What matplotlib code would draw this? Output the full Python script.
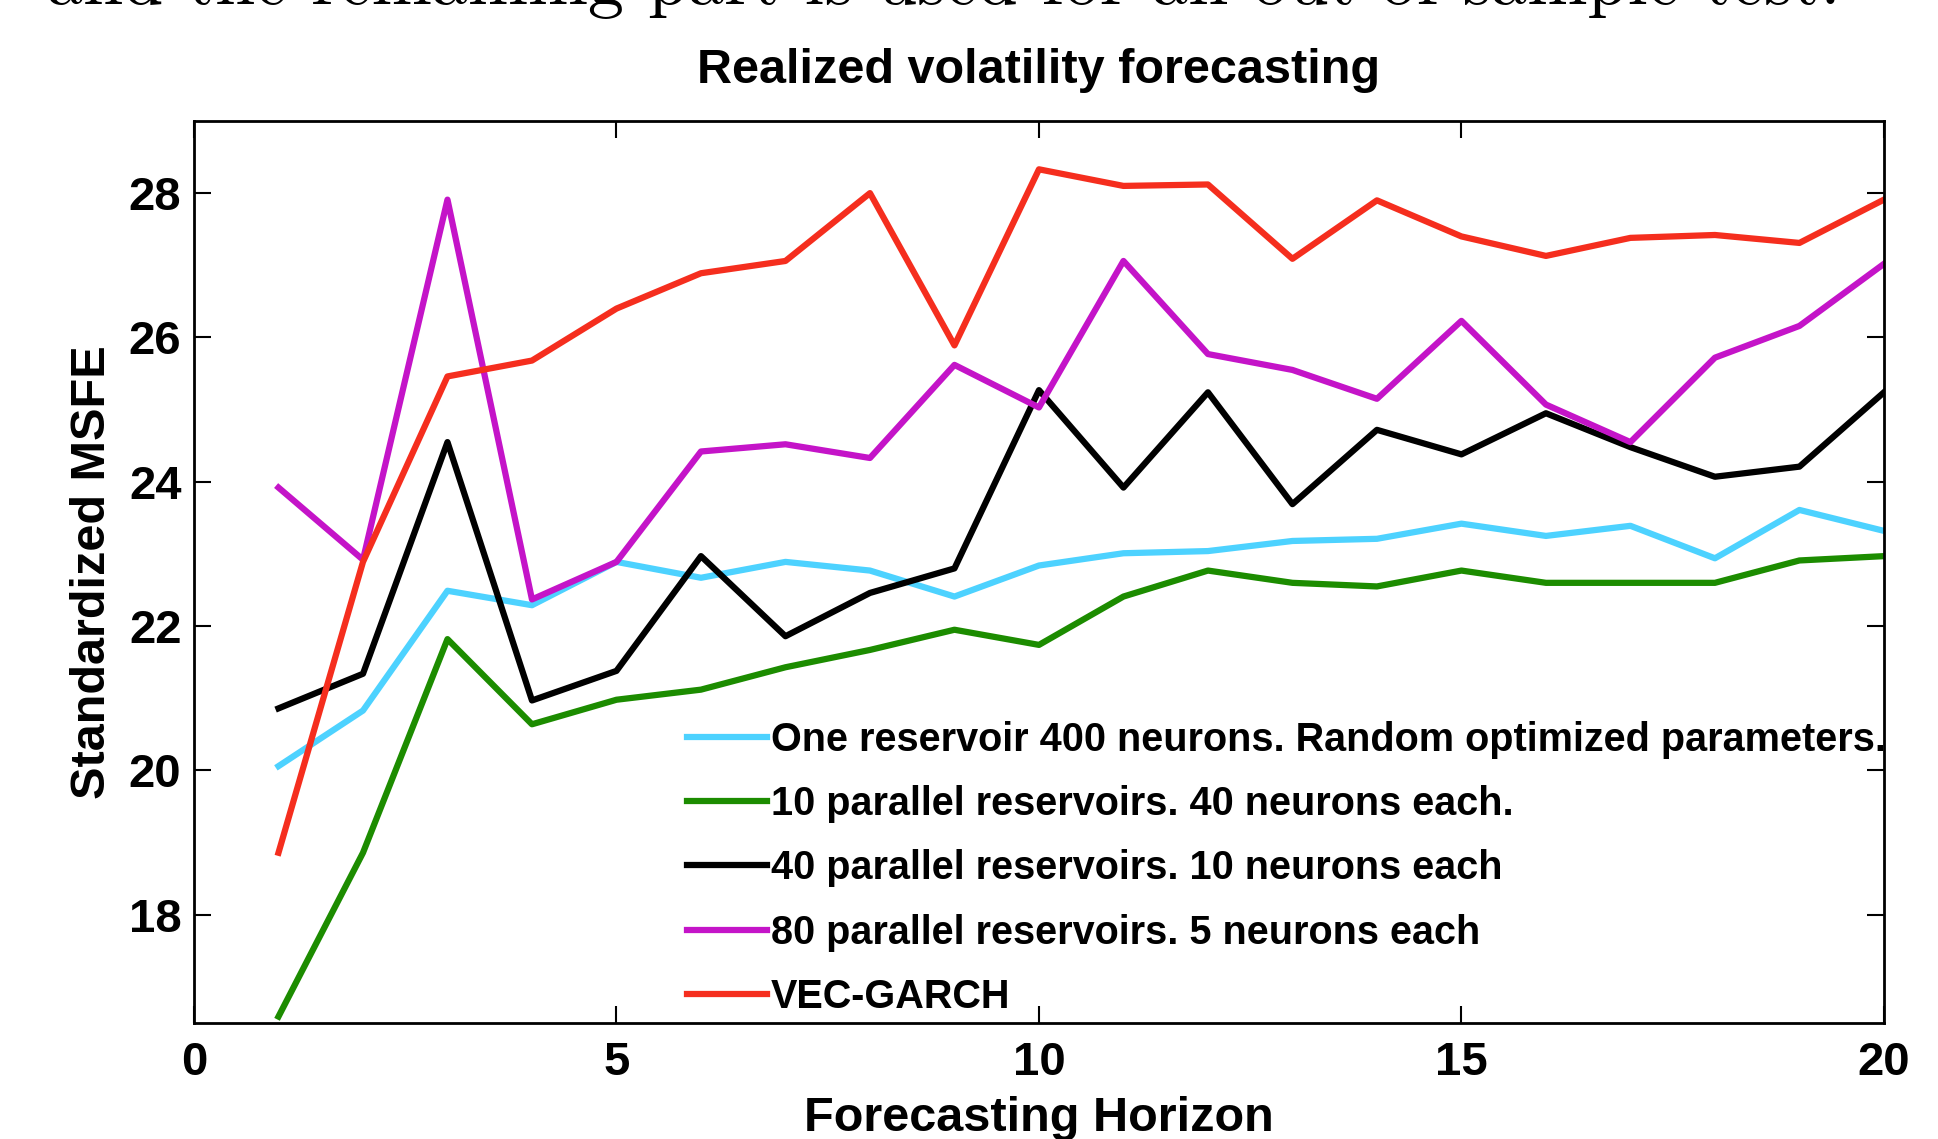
import matplotlib
matplotlib.use("Agg")
import matplotlib.pyplot as plt
import numpy as np

plt.rcParams['font.family'] = ['Liberation Sans', 'DejaVu Sans']
plt.rcParams['font.weight'] = 'bold'

horizon = np.arange(1, 21)

one_res = [20.06, 20.83, 22.49, 22.29, 22.89, 22.67, 22.89, 22.77, 22.41, 22.84,
           23.01, 23.04, 23.18, 23.21, 23.42, 23.25, 23.39, 22.94, 23.61, 23.32]
par10 = [16.59, 18.86, 21.82, 20.64, 20.98, 21.12, 21.43, 21.67, 21.95, 21.74,
         22.41, 22.77, 22.60, 22.55, 22.77, 22.60, 22.60, 22.60, 22.91, 22.97]
par40 = [20.86, 21.34, 24.55, 20.97, 21.38, 22.97, 21.86, 22.46, 22.80, 25.27,
         23.92, 25.24, 23.69, 24.72, 24.38, 24.95, 24.48, 24.07, 24.21, 25.24]
par80 = [23.92, 22.92, 27.91, 22.37, 22.89, 24.42, 24.52, 24.33, 25.62, 25.03,
         27.06, 25.77, 25.55, 25.15, 26.23, 25.07, 24.55, 25.72, 26.16, 27.02]
vec_garch = [18.86, 22.89, 25.46, 25.68, 26.40, 26.89, 27.06, 28.00, 25.89, 28.33,
             28.10, 28.12, 27.09, 27.90, 27.40, 27.13, 27.38, 27.42, 27.31, 27.91]

labels = ['One reservoir 400 neurons. Random optimized parameters.',
          '10 parallel reservoirs. 40 neurons each.',
          '40 parallel reservoirs. 10 neurons each',
          '80 parallel reservoirs. 5 neurons each',
          'VEC-GARCH']
colors = ['#4dd2ff', '#1c8c00', '#000000', '#c414c8', '#f52e1e']

fig = plt.figure(figsize=(19.38, 11.39), dpi=100)
ax = fig.add_axes([0.1001, 0.1018, 0.8720, 0.7920])

for series, lab, c in zip([one_res, par10, par40, par80, vec_garch], labels, colors):
    ax.plot(horizon, series, color=c, lw=4.5, label=lab)

ax.set_xlim(0, 20)
ax.set_ylim(16.5, 29.0)
ax.set_xticks([0, 5, 10, 15, 20])
ax.set_yticks([18, 20, 22, 24, 26, 28])
ax.tick_params(direction='in', top=True, right=True, length=12, width=1.5,
               labelsize=34)
ax.tick_params(axis='y', pad=9)
ax.tick_params(axis='x', pad=13)
for s in ax.spines.values():
    s.set_linewidth(2)

ax.set_title('Realized volatility forecasting', fontsize=35, fontweight='bold', pad=27)
ax.set_xlabel('Forecasting Horizon', fontsize=35, fontweight='bold', labelpad=8)
ax.set_ylabel('Standardized MSFE', fontsize=35, fontweight='bold', labelpad=10)

ax.legend(loc='lower left', bbox_to_anchor=(0.292, 0.008), frameon=False,
          fontsize=28.5, handlelength=2.0, handletextpad=0.1, labelspacing=0.665,
          borderpad=0, borderaxespad=0)

# text of the page above the chart, mostly cut off at the top edge
fig.text(0.024, 1 - 4 / 1139, 'and the remaining part is used for an out-of-sample test.',
         family='cmr10', fontweight='normal', fontsize=52, va='baseline')

fig.savefig('out.png', dpi=100)
